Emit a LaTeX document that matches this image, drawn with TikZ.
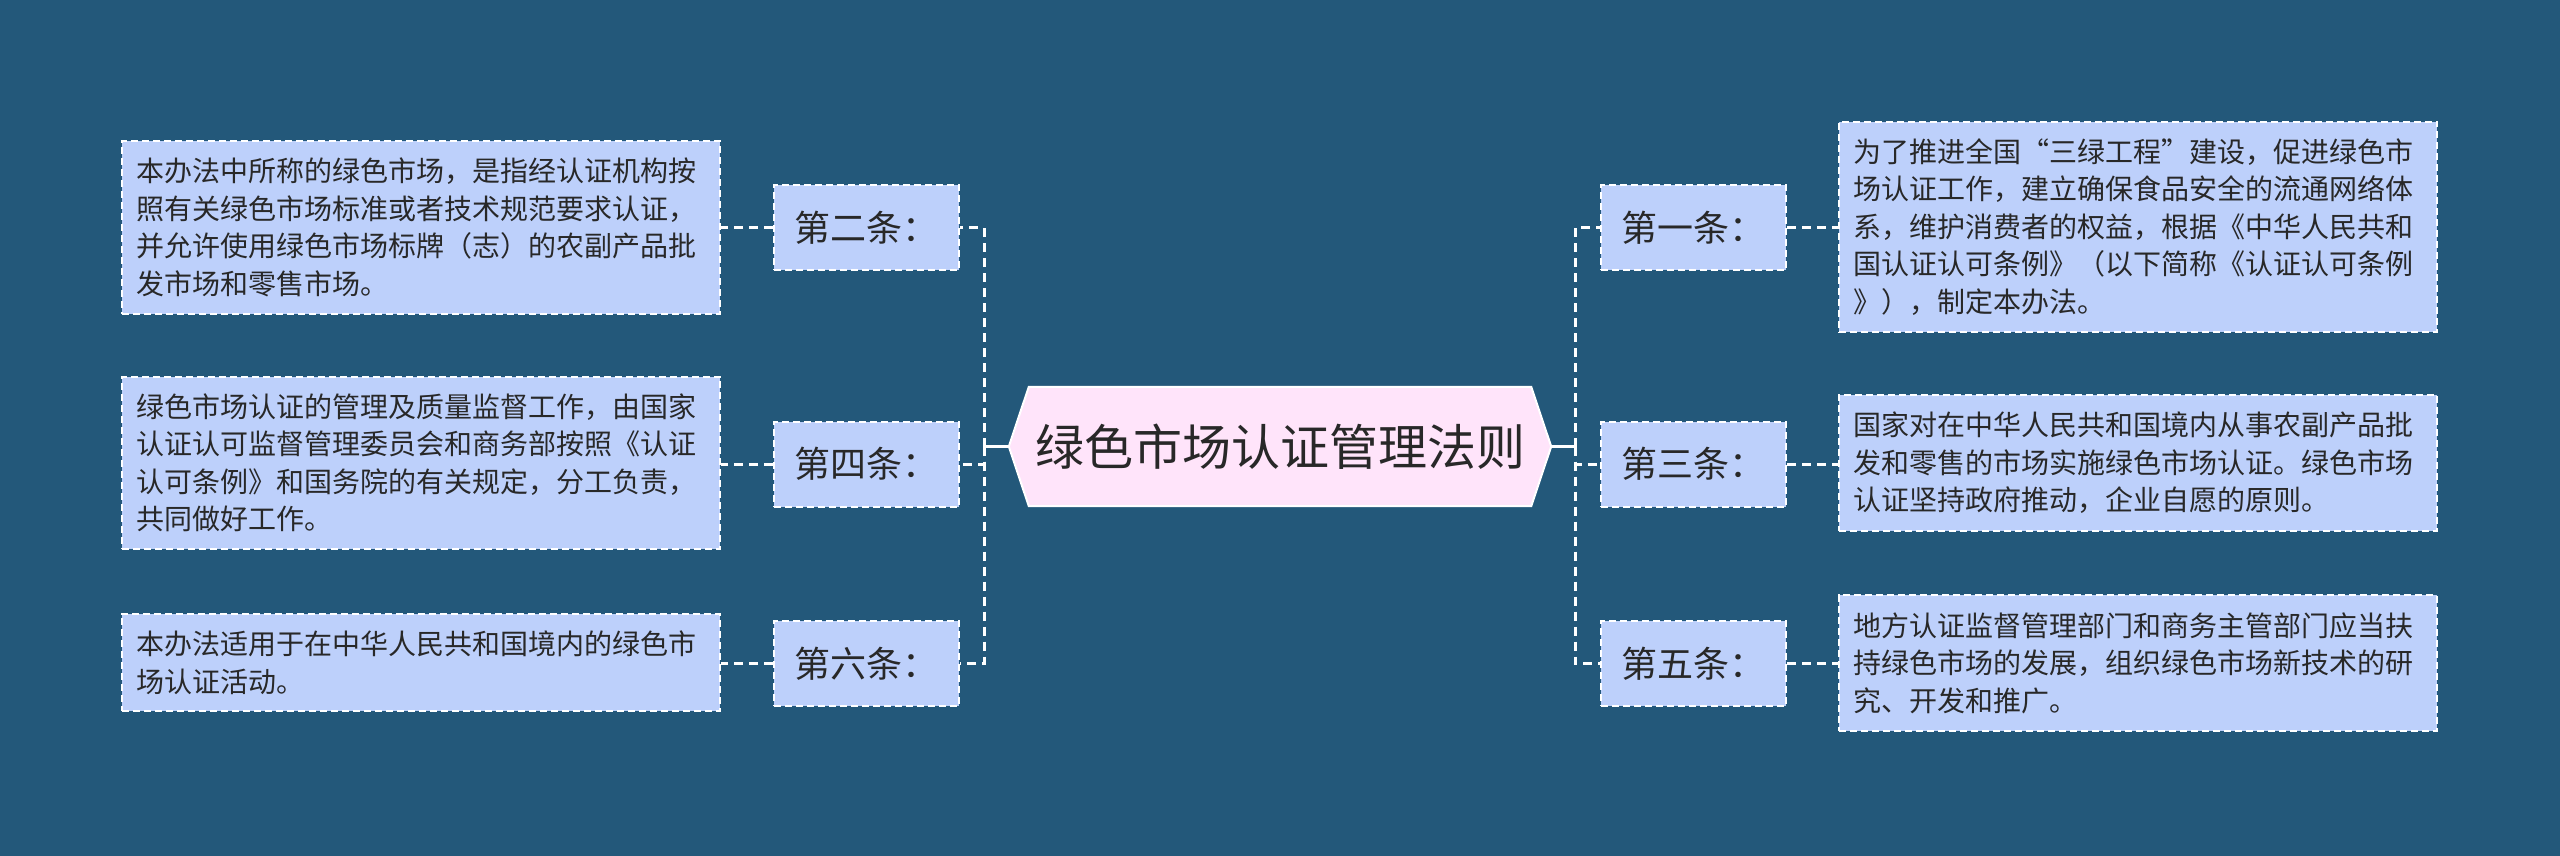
\documentclass[tikz,border=0pt]{standalone}
\usepackage{fontspec}
\setmainfont{Noto Sans CJK SC}
\usetikzlibrary{backgrounds}
\definecolor{bg}{RGB}{35,88,122}
\definecolor{boxfill}{RGB}{189,208,251}
\definecolor{rootfill}{RGB}{255,228,250}
\definecolor{txt}{RGB}{40,40,40}
\tikzset{
  leafbox/.style={draw=white, line width=2pt, dash pattern=on 7pt off 4pt, fill=boxfill,
    text=txt, align=left, text width=570pt, inner xsep=14pt, inner ysep=17pt,
    font=\fontsize{28}{37.5}\selectfont},
  artbox/.style={draw=white, line width=2pt, dash pattern=on 7pt off 4pt, fill=boxfill,
    text=txt, minimum width=185pt, minimum height=85pt, inner sep=0pt,
    font=\fontsize{36}{40}\selectfont},
  roottext/.style={minimum width=502pt, minimum height=119pt, inner sep=0pt, text=txt,
    font=\fontsize{49}{56}\selectfont},
  conn/.style={draw=white, line width=3pt, dash pattern=on 9pt off 6pt},
  stub/.style={draw=white, line width=3pt},
}
\begin{document}
\begin{tikzpicture}[x=1pt,y=-1pt]
\useasboundingbox (0,0) rectangle (2560,856);
\node[roottext] (root) at (1280,446.5) {绿色市场认证管理法则};
\begin{scope}[on background layer]
  \fill[bg] (0,0) rectangle (2560,856);
  \draw[fill=rootfill, draw=white, line width=2pt]
    (root.north west) -- (root.north east) -- ([xshift=20pt]root.east)
    -- (root.south east) -- (root.south west) -- ([xshift=-20pt]root.west) -- cycle;
\end{scope}
\coordinate (rootR) at ([xshift=20pt]root.east);
\coordinate (rootL) at ([xshift=-20pt]root.west);
\coordinate (trunkR) at (1575,446.5);
\coordinate (trunkL) at (984,446.5);

% labels
\node[artbox] (a1) at (1693.5,227.5) {第一条：};
\node[artbox] (a3) at (1693.5,464) {第三条：};
\node[artbox] (a5) at (1693.5,663.5) {第五条：};
\node[artbox] (a2) at (866.5,227.5) {第二条：};
\node[artbox] (a4) at (866.5,464) {第四条：};
\node[artbox] (a6) at (866.5,663.5) {第六条：};

% leaves
\node[leafbox] (r1) at (2138,227) {为了推进全国“三绿工程”建设，促进绿色市\\场认证工作，建立确保食品安全的流通网络体\\系，维护消费者的权益，根据《中华人民共和\\国认证认可条例》（以下简称《认证认可条例\\》），制定本办法。};
\node[leafbox] (r3) at (2138,463) {国家对在中华人民共和国境内从事农副产品批\\发和零售的市场实施绿色市场认证。绿色市场\\认证坚持政府推动，企业自愿的原则。};
\node[leafbox] (r5) at (2138,663) {地方认证监督管理部门和商务主管部门应当扶\\持绿色市场的发展，组织绿色市场新技术的研\\究、开发和推广。};
\node[leafbox] (l2) at (421,227.5) {本办法中所称的绿色市场，是指经认证机构按\\照有关绿色市场标准或者技术规范要求认证，\\并允许使用绿色市场标牌（志）的农副产品批\\发市场和零售市场。};
\node[leafbox] (l4) at (421,463) {绿色市场认证的管理及质量监督工作，由国家\\认证认可监督管理委员会和商务部按照《认证\\认可条例》和国务院的有关规定，分工负责，\\共同做好工作。};
\node[leafbox] (l6) at (421,662.5) {本办法适用于在中华人民共和国境内的绿色市\\场认证活动。};

% connectors
\draw[stub] (rootR) -- (trunkR);
\draw[stub] (rootL) -- (trunkL);
\draw[conn] (trunkR) |- (a1.west);
\draw[conn] (trunkR) |- (a3.west);
\draw[conn] (trunkR) |- (a5.west);
\draw[conn] (trunkL) |- (a2.east);
\draw[conn] (trunkL) |- (a4.east);
\draw[conn] (trunkL) |- (a6.east);
\draw[conn] (a1.east) -- (a1.east -| r1.west);
\draw[conn] (a3.east) -- (a3.east -| r3.west);
\draw[conn] (a5.east) -- (a5.east -| r5.west);
\draw[conn] (a2.west) -- (a2.west -| l2.east);
\draw[conn] (a4.west) -- (a4.west -| l4.east);
\draw[conn] (a6.west) -- (a6.west -| l6.east);
\end{tikzpicture}
\end{document}
